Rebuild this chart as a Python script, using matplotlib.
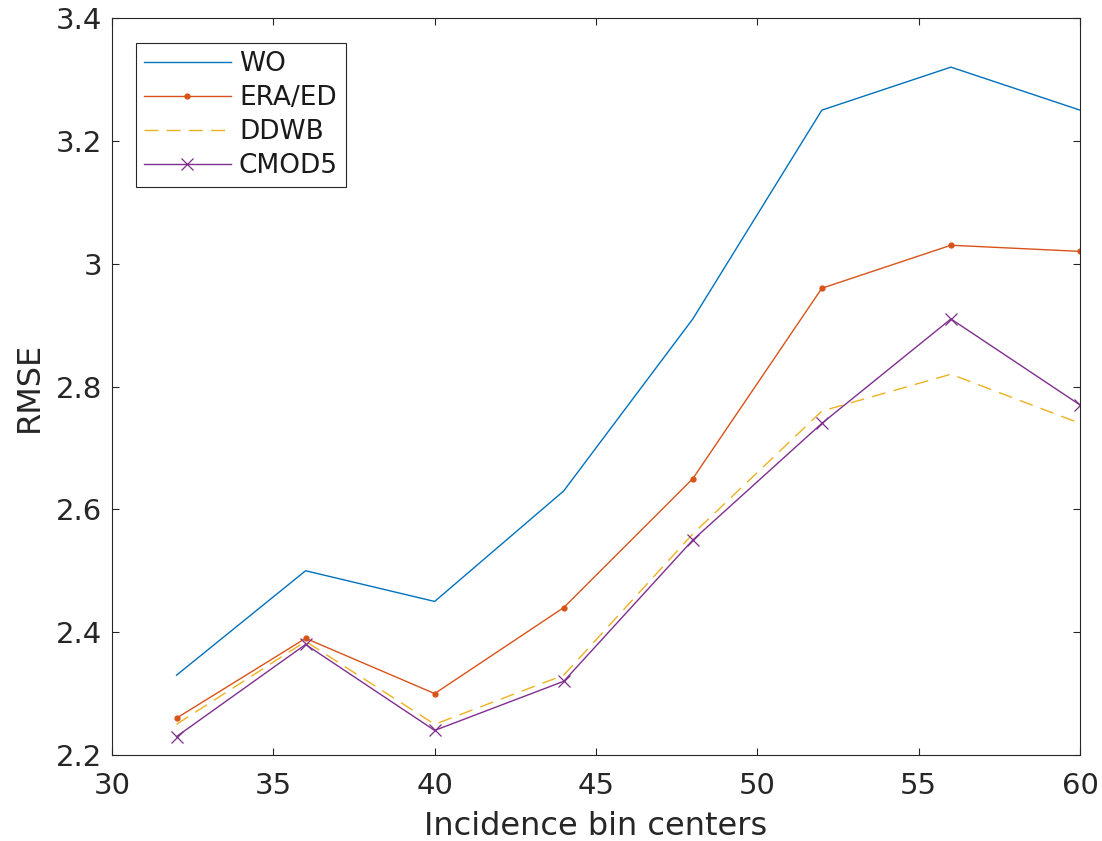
import matplotlib
matplotlib.use("Agg")
import matplotlib.pyplot as plt
from matplotlib.ticker import FuncFormatter

# Incidence bin centers and RMSE per method
incidence = [32, 36, 40, 44, 48, 52, 56, 60]
rmse_wo = [2.33, 2.50, 2.45, 2.63, 2.91, 3.25, 3.32, 3.25]
rmse_era = [2.26, 2.39, 2.30, 2.44, 2.65, 2.96, 3.03, 3.02]
rmse_ddwb = [2.25, 2.385, 2.25, 2.33, 2.56, 2.76, 2.82, 2.74]
rmse_cmod5 = [2.23, 2.38, 2.24, 2.32, 2.55, 2.74, 2.91, 2.77]

xticks = [30, 35, 40, 45, 50, 55, 60]
yticks = [2.2, 2.4, 2.6, 2.8, 3.0, 3.2, 3.4]

plt.rcParams['font.family'] = ['DejaVu Sans']
text_color = '#262626'

fig = plt.figure(figsize=(11.02, 8.41), dpi=100)
ax = fig.add_axes([112 / 1102, 86 / 841, 968 / 1102, 737 / 841])

lw = 1.0
ax.plot(incidence, rmse_wo, color='#0072BD', lw=lw, label='WO')
ax.plot(incidence, rmse_era, color='#D95319', lw=lw, marker='.', markersize=7,
        label='ERA/ED')
l_dd, = ax.plot(incidence, rmse_ddwb, color='#EDB120', lw=lw, label='DDWB')
l_dd.set_dashes((10, 6))
ax.plot(incidence, rmse_cmod5, color='#7E2F8E', lw=lw, marker='x', markersize=8.5,
        markeredgewidth=0.9, label='CMOD5')

ax.set_xlim(30, 60)
ax.set_ylim(2.2, 3.4)
ax.set_xticks(xticks)
ax.set_yticks(yticks)
ax.yaxis.set_major_formatter(FuncFormatter(lambda v, p: f'{v:g}'))

for sp in ax.spines.values():
    sp.set_color(text_color)
    sp.set_linewidth(0.8)

ax.tick_params(axis='both', direction='in', length=5, width=0.8,
               colors=text_color, labelsize=21, top=True, right=True)
ax.tick_params(axis='x', pad=12)
ax.tick_params(axis='y', pad=7)

ax.set_xlabel('Incidence bin centers', fontsize=23, color=text_color, labelpad=8)
ax.set_ylabel('RMSE', fontsize=23, color=text_color, labelpad=8)

leg = ax.legend(loc='upper left', bbox_to_anchor=(136 / 1102, 1 - 43 / 841),
                bbox_transform=fig.transFigure, borderaxespad=0,
                fancybox=False, framealpha=1, edgecolor=text_color,
                fontsize=19, handlelength=3.3, handletextpad=0.3,
                labelspacing=0.31, borderpad=0.3)
leg.get_frame().set_linewidth(0.8)
for t in leg.get_texts():
    t.set_color('#1a1a1a')

fig.savefig('out.png', dpi=100)
